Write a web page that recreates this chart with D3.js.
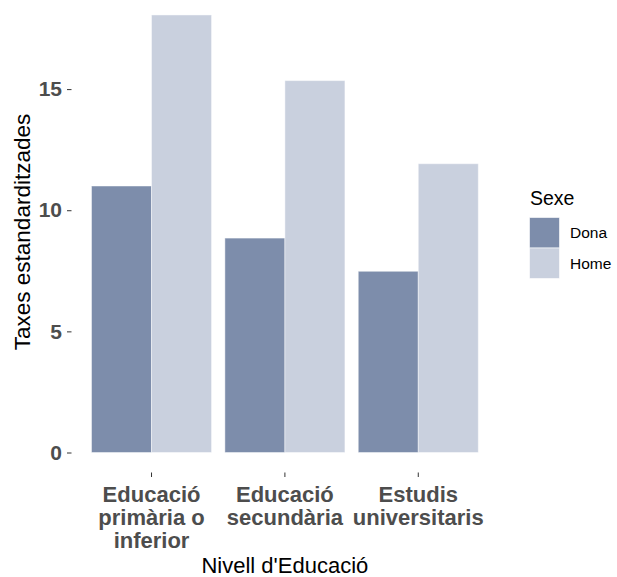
<!DOCTYPE html>
<html>
<head>
<meta charset="utf-8">
<script src="https://cdn.jsdelivr.net/npm/d3@7"></script>
<style>
  html, body { margin: 0; padding: 0; background: #ffffff; }
  svg { display: block; font-family: "Liberation Sans", Arial, sans-serif; }
</style>
</head>
<body>
<svg id="chart" width="617" height="577"></svg>
<script>
// ---- data ----
const categories = ["Educació primària o inferior", "Educació secundària", "Estudis universitaris"];
const categoryLines = [["Educació", "primària o", "inferior"], ["Educació", "secundària"], ["Estudis", "universitaris"]];
const sexes = ["Dona", "Home"];
const donaValues = [11.0, 8.85, 7.48];
const homeValues = [18.06, 15.35, 11.92];
const yTicks = [0, 5, 10, 15];
const sexColors = ["#7d8dab", "#c9d0de"];

const rows = [];
categories.forEach((c, i) => {
  rows.push({ cat: c, sex: sexes[0], value: donaValues[i] });
  rows.push({ cat: c, sex: sexes[1], value: homeValues[i] });
});

// ---- layout ----
const svg = d3.select("#chart");
const panel = { left: 71.5, right: 498.3, bottom: 472.5 };

const x = d3.scaleBand().domain(categories).range([panel.left, panel.right])
  .paddingInner(0.1).paddingOuter(0.15);
const xSex = d3.scaleBand().domain(sexes).range([0, x.bandwidth()]);
const y = d3.scaleLinear().domain([0, 15]).range([452.5, 89.1]);
const color = d3.scaleOrdinal().domain(sexes).range(sexColors);

// bars
svg.append("g").selectAll("rect").data(rows).join("rect")
  .attr("x", d => x(d.cat) + xSex(d.sex))
  .attr("y", d => y(d.value))
  .attr("width", xSex.bandwidth())
  .attr("height", d => y(0) - y(d.value))
  .attr("fill", d => color(d.sex))
  .attr("stroke", "#ffffff")
  .attr("stroke-opacity", 0.45)
  .attr("stroke-width", 1);

// y axis
const yAxis = svg.append("g")
  .attr("transform", `translate(${panel.left},0)`)
  .call(d3.axisLeft(y).tickValues(yTicks).tickSize(4.5).tickPadding(5));
yAxis.select(".domain").remove();
yAxis.selectAll(".tick line").attr("stroke", "#333333").attr("stroke-width", 1);
yAxis.selectAll(".tick text")
  .attr("fill", "#4d4d4d").attr("font-size", "21px").attr("font-weight", "bold")
  .attr("font-family", "Liberation Sans, Arial, sans-serif");

// x axis
const xAxis = svg.append("g")
  .attr("transform", `translate(0,${panel.bottom})`)
  .call(d3.axisBottom(x).tickSize(4.5).tickFormat(""));
xAxis.select(".domain").remove();
xAxis.selectAll(".tick line").attr("stroke", "#333333").attr("stroke-width", 1);
xAxis.selectAll(".tick text").remove();
xAxis.selectAll(".tick").each(function (d, i) {
  const t = d3.select(this).append("text")
    .attr("fill", "#4d4d4d").attr("font-size", "22px").attr("font-weight", "bold")
    .attr("text-anchor", "middle");
  categoryLines[i].forEach((line, j) => {
    t.append("tspan").attr("x", 0).attr("y", 29.2 + j * 23.2).text(line);
  });
});

// axis titles
svg.append("text")
  .attr("x", (panel.left + panel.right) / 2)
  .attr("y", 572.5)
  .attr("text-anchor", "middle")
  .attr("font-size", "22px")
  .attr("fill", "#000000")
  .text("Nivell d'Educació");

svg.append("text")
  .attr("transform", "translate(30,232) rotate(-90)")
  .attr("text-anchor", "middle")
  .attr("font-size", "22.5px")
  .attr("fill", "#000000")
  .text("Taxes estandarditzades");

// legend
const legend = svg.append("g");
legend.append("text")
  .attr("x", 530).attr("y", 205)
  .attr("font-size", "19.5px").attr("fill", "#000000")
  .text("Sexe");
const keyH = 30.5;
sexes.forEach((s, i) => {
  const ky = 217.5 + i * keyH;
  legend.append("rect")
    .attr("x", 529.5).attr("y", ky)
    .attr("width", 30).attr("height", keyH)
    .attr("fill", color(s))
    .attr("stroke", "#ffffff").attr("stroke-opacity", 0.6).attr("stroke-width", 1);
  legend.append("text")
    .attr("x", 570).attr("y", ky + keyH / 2 + 5.5)
    .attr("font-size", "15.5px").attr("fill", "#000000")
    .text(s);
});
</script>
</body>
</html>
